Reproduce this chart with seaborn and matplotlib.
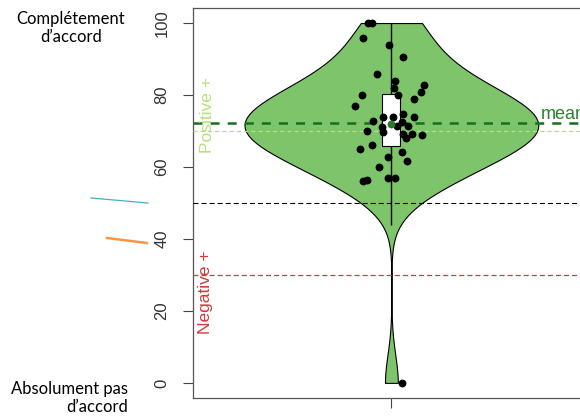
import numpy as np
import matplotlib
matplotlib.use("Agg")
import matplotlib.pyplot as plt
import seaborn as sns
from matplotlib.lines import Line2D

# scores (one per jittered point)
scores = [100, 100, 95.9, 93.8, 90.7, 85.8, 84.0, 82.8, 81.9, 80.9,
          80.1, 80.0, 79.0, 77.0, 74.0, 74.0, 74.6, 73.8, 72.9, 72.4,
          71.3, 71.5, 71.0, 70.1, 69.7, 69.2, 69.2, 68.9, 68.0, 64.9,
          66.0, 64.1, 61.8, 62.7, 60.0, 56.1, 56.3, 57.0, 57.0, 0]
# horizontal offsets of the points (as drawn)
jitter = [-0.064, -0.054, -0.078, -0.007, 0.031, -0.040, 0.009, 0.088, 0.006, 0.080,
          -0.081, 0.017, 0.061, -0.100, -0.024, 0.004, 0.031, 0.061, -0.051, 0.028,
          0.014, 0.044, -0.026, -0.067, -0.024, 0.031, 0.055, 0.082, 0.039, -0.086,
          -0.054, 0.028, 0.042, -0.010, -0.035, -0.078, -0.067, -0.010, 0.009, 0.028]
pos_thresh = 70
mid_line = 50
neg_thresh = 30
yticks = [0, 20, 40, 60, 80, 100]

plt.rcParams['font.family'] = ['Liberation Sans', 'DejaVu Sans']
plt.rcParams['lines.scale_dashes'] = False

fill = '#7dc46b'
dark_green = '#16701a'
light_green = '#b5e07c'
red = '#d43838'

fig = plt.figure(figsize=(5.8, 4.19), dpi=100)
ax = fig.add_axes([0.3328, 0.0501, 0.684, 0.931])

sns.violinplot(y=scores, ax=ax, cut=0, inner=None, color=fill, linecolor='black',
               linewidth=0.8, width=0.8, saturation=1)

vals = np.array(scores)
q1, med, q3 = np.percentile(vals, [25, 50, 75])
iqr = q3 - q1
lo = max(q1 - 1.5 * iqr, vals.min())
hi = min(q3 + 1.5 * iqr, vals.max())
mean = vals.mean()

ax.vlines(0, lo, hi, color='black', lw=1, zorder=3)
ax.bar(0, q3 - q1, bottom=q1, width=0.049, color='white', edgecolor='black', lw=0.8, zorder=4)

ax.axhline(mid_line, color='black', lw=0.8, dashes=(3.6, 2.2), zorder=3)
ax.axhline(neg_thresh, color=red, lw=0.9, dashes=(3.6, 2.2), zorder=3)
ax.axhline(pos_thresh, color=light_green, lw=0.9, dashes=(3.0, 2.2), zorder=3)
ax.axhline(mean, color=dark_green, lw=1.8, dashes=(6.5, 5.8), zorder=3)

ax.scatter(jitter, scores, s=32, color='black', zorder=5, linewidths=0)
ax.scatter([0], [med], s=32, color='#2a7a2a', zorder=6, linewidths=0)

ax.text(0.408, mean + 1.0, 'mean', color='#2f7f2f', fontsize=13, ha='left', va='baseline')
ax.text(-0.50, 74.4, 'Positive +', color=light_green, fontsize=12.5, rotation=90,
        ha='center', va='center')
ax.text(-0.505, 25.3, 'Negative +', color=red, fontsize=12.5, rotation=90,
        ha='center', va='center')

ax.set_xlim(-0.54, 0.54)
ax.set_ylim(-4.2, 104.2)
ax.set_yticks(yticks)
ax.set_yticklabels([str(t) for t in yticks])
ax.set_xticks([0])
ax.set_xticklabels([''])
ax.tick_params(axis='both', length=7, width=0.8, color='#444444')
ax.tick_params(axis='y', pad=10, labelsize=12, labelcolor='#333333')
plt.setp(ax.get_yticklabels(), rotation=90, va='center')
for s in ax.spines.values():
    s.set_color('#555555')
    s.set_linewidth(0.9)
ax.set_xlabel('')
ax.set_ylabel('')

fig.text(71 / 580, 1 - 28 / 419, 'Complétement\nd’accord', ha='center', va='center',
         multialignment='center', fontfamily='Lato', fontsize=12, linespacing=1.2)
fig.text(128 / 580, 1 - 398 / 419, 'Absolument pas\nd’accord', ha='right', va='center',
         multialignment='right', fontfamily='Lato', fontsize=12, linespacing=1.2)

fig.add_artist(Line2D([91 / 580, 148 / 580], [1 - 198 / 419, 1 - 203 / 419],
                      color='#4bacc6', lw=0.9))
fig.add_artist(Line2D([107 / 580, 147 / 580], [1 - 238 / 419, 1 - 243 / 419],
                      color='#f79646', lw=1.8))

fig.savefig('out.png', dpi=100)
